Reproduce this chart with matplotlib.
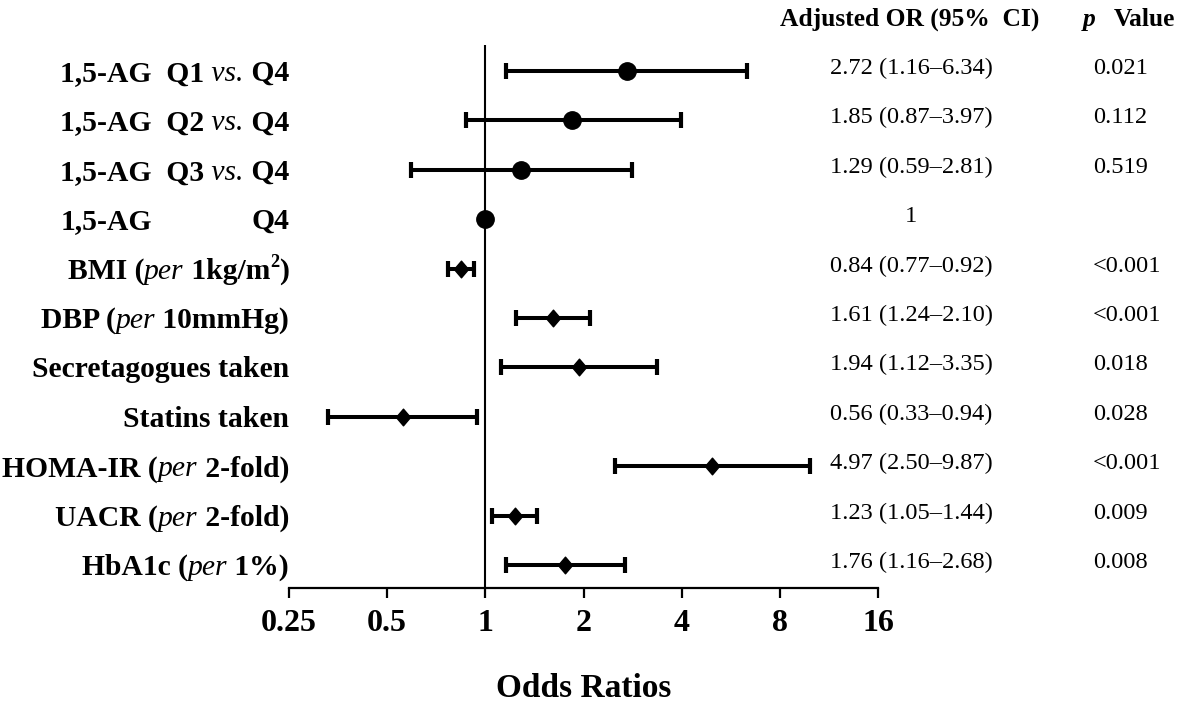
import matplotlib
matplotlib.use("Agg")
import matplotlib.pyplot as plt
import matplotlib.transforms as mtransforms
from matplotlib.path import Path
from matplotlib.ticker import NullLocator
import numpy as np

plt.rcParams['font.family'] = ['Liberation Serif', 'DejaVu Serif']

# ---- data ----
# each label is a list of (text, weight, style) pieces
row_labels = [
    [("1,5-AG  Q1", "bold", "normal"), (" vs.", "normal", "italic"), (" Q4", "bold", "normal")],
    [("1,5-AG  Q2", "bold", "normal"), (" vs.", "normal", "italic"), (" Q4", "bold", "normal")],
    [("1,5-AG  Q3", "bold", "normal"), (" vs.", "normal", "italic"), (" Q4", "bold", "normal")],
    [("Q4", "bold", "normal")],
    [("BMI (", "bold", "normal"), ("per", "normal", "italic"), (" 1kg/m", "bold", "normal"),
     ("2", "bold", "sup"), (")", "bold", "normal")],
    [("DBP (", "bold", "normal"), ("per", "normal", "italic"), (" 10mmHg)", "bold", "normal")],
    [("Secretagogues taken", "bold", "normal")],
    [("Statins taken", "bold", "normal")],
    [("HOMA-IR (", "bold", "normal"), ("per", "normal", "italic"), (" 2-fold)", "bold", "normal")],
    [("UACR (", "bold", "normal"), ("per", "normal", "italic"), (" 2-fold)", "bold", "normal")],
    [("HbA1c (", "bold", "normal"), ("per", "normal", "italic"), (" 1%)", "bold", "normal")],
]
odds = [2.72, 1.85, 1.29, 1.0, 0.84, 1.61, 1.94, 0.56, 4.97, 1.23, 1.76]
ci_low = [1.16, 0.87, 0.59, np.nan, 0.77, 1.24, 1.12, 0.33, 2.50, 1.05, 1.16]
ci_high = [6.34, 3.97, 2.81, np.nan, 0.92, 2.10, 3.35, 0.94, 9.87, 1.44, 2.68]
marker_kind = ["o", "o", "o", "o", "D", "D", "D", "D", "D", "D", "D"]
or_text = ["2.72 (1.16\u20136.34)", "1.85 (0.87\u20133.97)", "1.29 (0.59\u20132.81)", "1",
           "0.84 (0.77\u20130.92)", "1.61 (1.24\u20132.10)", "1.94 (1.12\u20133.35)",
           "0.56 (0.33\u20130.94)", "4.97 (2.50\u20139.87)", "1.23 (1.05\u20131.44)",
           "1.76 (1.16\u20132.68)"]
p_text = ["0.021", "0.112", "0.519", "", "<0.001", "<0.001", "0.018", "0.028",
          "<0.001", "0.009", "0.008"]
xticks = [0.25, 0.5, 1, 2, 4, 8, 16]
xtick_labels = ["0.25", "0.5", "1", "2", "4", "8", "16"]

W, H, DPI = 1181, 707, 100
fig = plt.figure(figsize=(W / DPI, H / DPI), dpi=DPI)
ax = fig.add_axes([289 / W, 1 - 588 / H, (878 - 289) / W, (588 - 45) / H])
renderer = fig.canvas.get_renderer()

n = len(odds)
y = np.arange(n)
odds = np.array(odds)
lo = np.array(ci_low)
hi = np.array(ci_high)

ax.set_xscale('log', base=2)
ax.set_xlim(0.25, 16)
ax.set_ylim(n - 1 + 0.466, -0.526)

ax.axvline(1, color='black', lw=1.5, zorder=1)

has_ci = ~np.isnan(lo)
ax.errorbar(odds[has_ci], y[has_ci], xerr=[odds[has_ci] - lo[has_ci], hi[has_ci] - odds[has_ci]],
            fmt='none', ecolor='black', elinewidth=2.9, capsize=5.8, capthick=3.0, zorder=2)

diamond = Path([(0, 1), (0.85, 0), (0, -1), (-0.85, 0), (0, 1)],
               [Path.MOVETO, Path.LINETO, Path.LINETO, Path.LINETO, Path.CLOSEPOLY])
circ = np.array([m == "o" for m in marker_kind])
ax.plot(odds[circ], y[circ], 'o', color='black', ms=12.5, zorder=3, linestyle='none')
ax.plot(odds[~circ], y[~circ], marker=diamond, color='black', ms=12, zorder=3, linestyle='none')

for side in ['left', 'top', 'right']:
    ax.spines[side].set_visible(False)
ax.spines['bottom'].set_linewidth(1.6)
ax.set_yticks([])
ax.set_xticks(xticks)
ax.set_xticklabels(xtick_labels)
ax.xaxis.set_minor_locator(NullLocator())
ax.tick_params(axis='x', direction='out', length=7, width=1.6, pad=8, labelsize=23)
for t in ax.get_xticklabels():
    t.set_fontweight('bold')
ax.set_xlabel('Odds Ratios', fontsize=24, fontweight='bold', labelpad=25)


def text_width(s, size, weight, style):
    t = fig.text(0, 0, "|" + s + "|", fontsize=size, fontweight=weight, fontstyle=style)
    w1 = t.get_window_extent(renderer).width
    t.set_text("||")
    w2 = t.get_window_extent(renderer).width
    t.remove()
    return w1 - w2


def rich_text(pieces, x, yy, base, size, ha='right', dy=0):
    specs = []
    for s, wt, st in pieces:
        if st == "sup":
            specs.append((s, size * 0.62, wt, "normal", size * 0.55))
        else:
            specs.append((s, size, wt, st, 0))
    widths = [text_width(s, sz, wt, st) for s, sz, wt, st, _ in specs]
    x0 = -sum(widths) if ha == 'right' else 0
    start = x0
    for (s, sz, wt, st, rz), w in zip(specs, widths):
        tr = mtransforms.offset_copy(base, fig=fig, x=x0, y=dy + rz, units='dots')
        ax.text(x, yy, s, transform=tr, fontsize=sz, fontweight=wt, fontstyle=st,
                ha='left', va='baseline', clip_on=False)
        x0 += w
    return start


lab_size = 21.3
left_trans = ax.get_yaxis_transform()
first_start = None
for i, pieces in enumerate(row_labels):
    s0 = rich_text(pieces, 0, i, left_trans, lab_size, ha='right', dy=-10)
    if i == 0:
        first_start = s0
# "1,5-AG" of the reference row lines up with the rows above
tr = mtransforms.offset_copy(left_trans, fig=fig, x=first_start, y=-10, units='dots')
ax.text(0, 3, "1,5-AG", transform=tr, fontsize=lab_size, fontweight='bold',
        ha='left', va='baseline', clip_on=False)

col_trans = mtransforms.blended_transform_factory(fig.transFigure, ax.transData)
for i in range(n):
    tr = mtransforms.offset_copy(col_trans, fig=fig, x=0, y=-3, units='dots')
    ax.text(911 / W, i, or_text[i], transform=tr, fontsize=17.6, ha='center',
            va='baseline', clip_on=False)
    if p_text[i]:
        ax.text(1093 / W, i, p_text[i], transform=tr, fontsize=17.6, ha='left',
                va='baseline', clip_on=False)

# column headers
head_y = 1 - 26 / H
fig.text(910 / W, head_y, "Adjusted OR (95%  CI)", fontsize=18.4, fontweight='bold',
         ha='center', va='baseline')
fig.text(1083 / W, head_y, "p", fontsize=18.4, fontweight='bold', fontstyle='italic',
         ha='left', va='baseline')
fig.text(1114 / W, head_y, "Value", fontsize=18.4, fontweight='bold',
         ha='left', va='baseline')

fig.savefig("out.png", dpi=DPI, facecolor='white')
